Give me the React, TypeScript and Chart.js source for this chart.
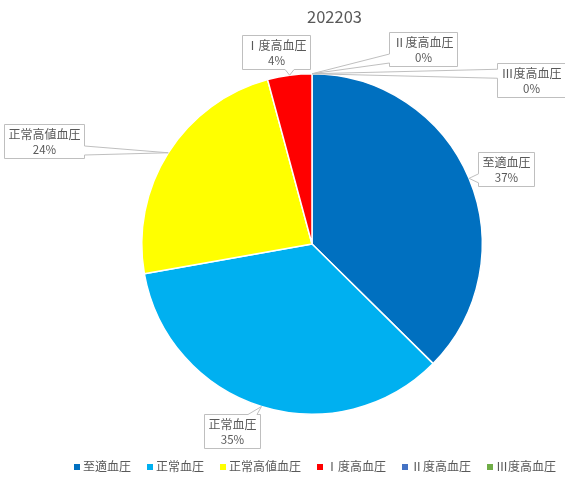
import React, { useEffect, useRef } from 'react';
import { Chart, ChartConfiguration, Plugin, registerables } from 'chart.js';

Chart.register(...registerables);

const title = '202203';
const categories = ['至適血圧', '正常血圧', '正常高値血圧', 'Ⅰ度高血圧', 'Ⅱ度高血圧', 'Ⅲ度高血圧'];
const shares = [37.4, 34.8, 23.6, 4.2, 0, 0];
const colors = ['#0070C0', '#00B0F0', '#FFFF00', '#FF0000', '#4472C4', '#70AD47'];

// callout box centre, relative to the point where the slice's mid-angle meets the rim
const labelOffsets = [
  { dx: 37, dy: -9 },
  { dx: -29, dy: 24.5 },
  { dx: -124, dy: -11.5 },
  { dx: -13.5, dy: -23.5 },
  { dx: 111, dy: -24.5 },
  { dx: 218.5, dy: 6 }
];

const FONT = '"Noto Sans CJK JP", "Noto Sans", sans-serif';
const TEXT = '#595959';

const clamp = (v: number, lo: number, hi: number) => Math.min(Math.max(v, lo), hi);

function drawCallout(
  ctx: CanvasRenderingContext2D,
  left: number,
  top: number,
  w: number,
  h: number,
  tx: number,
  ty: number
) {
  const right = left + w;
  const bottom = top + h;
  const ox = tx < left ? left - tx : tx > right ? tx - right : 0;
  const oy = ty < top ? top - ty : ty > bottom ? ty - bottom : 0;
  const half = 4.5;
  const m = 8;

  ctx.beginPath();
  ctx.moveTo(left, top);
  if (oy > ox && ty < top) {
    const c = clamp(tx, left + m, right - m);
    ctx.lineTo(c - half, top);
    ctx.lineTo(tx, ty);
    ctx.lineTo(c + half, top);
  }
  ctx.lineTo(right, top);
  if (ox >= oy && tx > right) {
    const c = clamp(ty, top + m, bottom - m);
    ctx.lineTo(right, c - half);
    ctx.lineTo(tx, ty);
    ctx.lineTo(right, c + half);
  }
  ctx.lineTo(right, bottom);
  if (oy > ox && ty > bottom) {
    const c = clamp(tx, left + m, right - m);
    ctx.lineTo(c + half, bottom);
    ctx.lineTo(tx, ty);
    ctx.lineTo(c - half, bottom);
  }
  ctx.lineTo(left, bottom);
  if (ox >= oy && tx < left) {
    const c = clamp(ty, top + m, bottom - m);
    ctx.lineTo(left, c + half);
    ctx.lineTo(tx, ty);
    ctx.lineTo(left, c - half);
  }
  ctx.closePath();
  ctx.fillStyle = '#FFFFFF';
  ctx.fill();
  ctx.strokeStyle = '#BFBFBF';
  ctx.lineWidth = 1;
  ctx.stroke();
}

const calloutPlugin: Plugin<'pie'> = {
  id: 'callouts',
  afterDatasetsDraw(chart) {
    const ctx = chart.ctx;
    const meta = chart.getDatasetMeta(0);
    const values = chart.data.datasets[0].data as number[];
    const total = values.reduce((s, v) => s + v, 0);

    ctx.save();
    meta.data.forEach((el, i) => {
      const { x, y, startAngle, endAngle, outerRadius } = (el as any).getProps(
        ['x', 'y', 'startAngle', 'endAngle', 'outerRadius'],
        true
      );
      const mid = (startAngle + endAngle) / 2;
      const tx = x + Math.cos(mid) * outerRadius;
      const ty = y + Math.sin(mid) * outerRadius;

      const name = String(chart.data.labels![i]);
      const pct = `${Math.round((values[i] / total) * 100)}%`;
      ctx.font = `12px ${FONT}`;
      const tw = Math.max(ctx.measureText(name).width, ctx.measureText(pct).width);
      const w = Math.round(tw + 8);
      const h = 34;
      const cx = tx + labelOffsets[i].dx;
      const cy = ty + labelOffsets[i].dy;
      const left = Math.round(cx - w / 2) + 0.5;
      const top = Math.round(cy - h / 2) + 0.5;

      drawCallout(ctx, left, top, w, h, tx, ty);

      ctx.fillStyle = TEXT;
      ctx.textAlign = 'center';
      ctx.textBaseline = 'middle';
      ctx.fillText(name, left + w / 2, top + 9.5);
      ctx.font = `11.5px ${FONT}`;
      ctx.fillText(pct, left + w / 2, top + 25);
    });
    ctx.restore();
  }
};

const framePlugin: Plugin<'pie'> = {
  id: 'frame',
  afterDraw(chart) {
    const ctx = chart.ctx;
    ctx.save();
    // title
    ctx.fillStyle = TEXT;
    ctx.font = `16.5px ${FONT}`;
    ctx.textAlign = 'center';
    ctx.textBaseline = 'middle';
    ctx.fillText(title, 334.5, 17);

    // legend
    ctx.font = `12px ${FONT}`;
    ctx.textAlign = 'left';
    const box = 6;
    const gapText = 3;
    const gapItem = 16;
    const labels = chart.data.labels as string[];
    const widths = labels.map((l) => ctx.measureText(l).width);
    const totalW =
      widths.reduce((s, w) => s + w + box + gapText, 0) + gapItem * (labels.length - 1);
    let x = 315 - totalW / 2;
    const ly = 466.5;
    labels.forEach((l, i) => {
      ctx.fillStyle = colors[i];
      ctx.fillRect(Math.round(x), Math.round(ly - box / 2), box, box);
      ctx.fillStyle = TEXT;
      ctx.fillText(l, x + box + gapText, ly);
      x += box + gapText + widths[i] + gapItem;
    });
    ctx.restore();
  }
};

export default function App() {
  const canvasRef = useRef<HTMLCanvasElement>(null);
  const chartRef = useRef<Chart<'pie'> | null>(null);

  useEffect(() => {
    document.body.style.margin = '0';
    if (!canvasRef.current) return;
    if (chartRef.current) chartRef.current.destroy();

    const config: ChartConfiguration<'pie'> = {
      type: 'pie',
      data: {
        labels: categories,
        datasets: [
          {
            data: shares,
            backgroundColor: colors,
            borderColor: '#FFFFFF',
            borderWidth: 1.5,
            hoverOffset: 0,
            offset: 0
          }
        ]
      },
      options: {
        responsive: false,
        animation: false,
        events: [],
        layout: {
          padding: { left: 141, right: 82, top: 73, bottom: 66 }
        },
        plugins: {
          legend: { display: false },
          title: { display: false },
          tooltip: { enabled: false }
        }
      },
      plugins: [calloutPlugin, framePlugin]
    };

    chartRef.current = new Chart(canvasRef.current, config);

    return () => {
      if (chartRef.current) {
        chartRef.current.destroy();
        chartRef.current = null;
      }
    };
  }, []);

  return (
    <div style={{ width: 565, height: 481, background: '#FFFFFF' }}>
      <canvas ref={canvasRef} width={565} height={481} />
    </div>
  );
}
